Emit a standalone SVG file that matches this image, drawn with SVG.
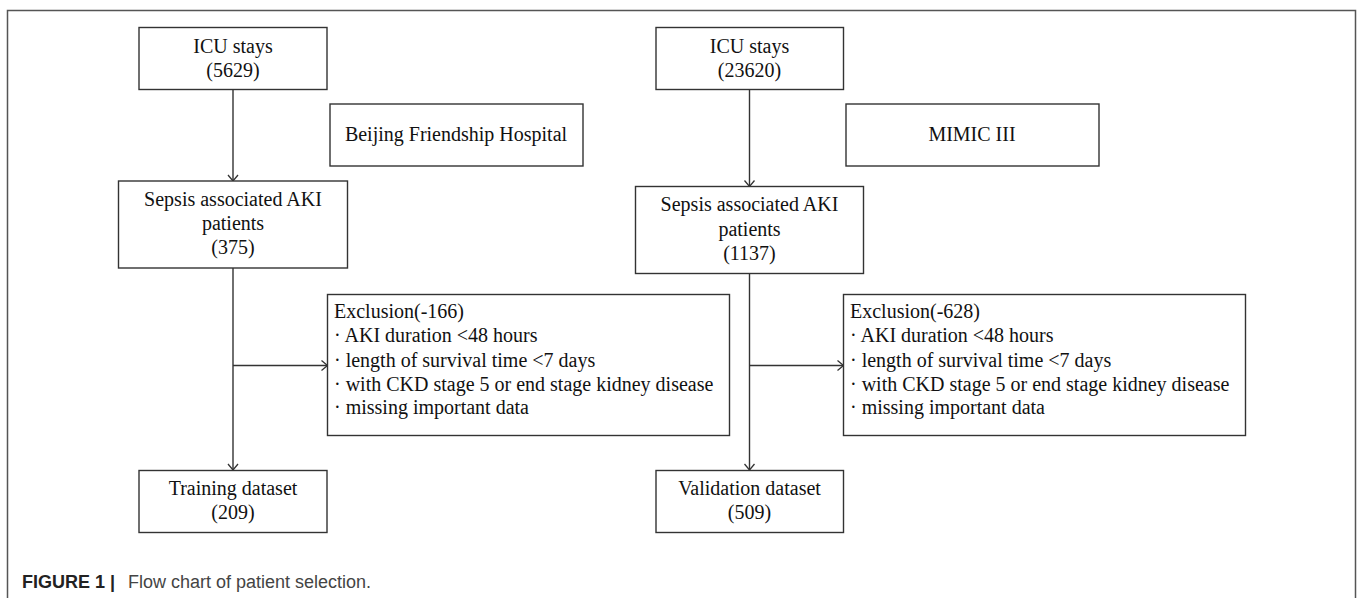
<svg xmlns="http://www.w3.org/2000/svg" width="1357" height="598" viewBox="0 0 1357 598">
  <style>
    .box { fill: #ffffff; stroke: #333333; stroke-width: 1.4; }
    .t { font-family: "Liberation Serif", "Times New Roman", serif; font-size: 20px; fill: #111111; }
    .c { text-anchor: middle; }
    .edge { fill: none; stroke: #333333; stroke-width: 1.4; }
    .frame { fill: none; stroke: #555555; stroke-width: 1.5; }
    .cap { font-family: "Liberation Sans", Arial, sans-serif; font-size: 18px; }
  </style>
  <defs>
    <marker id="arr" markerUnits="userSpaceOnUse" viewBox="0 0 8 12" refX="7" refY="6" markerWidth="8" markerHeight="12" orient="auto">
      <path d="M1,1 L7,6 L1,11" fill="none" stroke="#333333" stroke-width="1.3"/>
    </marker>
  </defs>
  <rect width="1357" height="598" fill="#ffffff"/>
  <path class="frame" d="M7.5,598 V10.5 H1355.5 V598"/>

  <g id="connectors">
    <line class="edge" x1="233" y1="89" x2="233" y2="181" marker-end="url(#arr)"/>
    <line class="edge" x1="233" y1="268" x2="233" y2="470" marker-end="url(#arr)"/>
    <line class="edge" x1="233" y1="365.5" x2="327.5" y2="365.5" marker-end="url(#arr)"/>
    <line class="edge" x1="749.5" y1="89" x2="749.5" y2="186.5" marker-end="url(#arr)"/>
    <line class="edge" x1="749.5" y1="274" x2="749.5" y2="470" marker-end="url(#arr)"/>
    <line class="edge" x1="749.5" y1="365.5" x2="843.5" y2="365.5" marker-end="url(#arr)"/>
  </g>

  <g id="icu-left">
    <rect class="box" x="139" y="27.5" width="188" height="62"/>
    <text class="t c" x="233" y="52.5">ICU stays</text>
    <text class="t c" x="233" y="76.5">(5629)</text>
  </g>
  <g id="bfh">
    <rect class="box" x="330" y="104" width="253" height="62"/>
    <text class="t c" x="456" y="141">Beijing Friendship Hospital</text>
  </g>
  <g id="sepsis-left">
    <rect class="box" x="118.5" y="181" width="229" height="87"/>
    <text class="t c" x="233" y="206">Sepsis associated AKI</text>
    <text class="t c" x="233" y="230">patients</text>
    <text class="t c" x="233" y="254">(375)</text>
  </g>
  <g id="excl-left">
    <rect class="box" x="327.5" y="294.5" width="402" height="141"/>
    <text class="t" x="334" y="318">Exclusion(-166)</text>
    <text class="t" x="334" y="342">· AKI duration &lt;48 hours</text>
    <text class="t" x="334" y="367">· length of survival time &lt;7 days</text>
    <text class="t" x="334" y="390.5">· with CKD stage 5 or end stage kidney disease</text>
    <text class="t" x="334" y="414">· missing important data</text>
  </g>
  <g id="train">
    <rect class="box" x="139" y="470.5" width="188" height="62"/>
    <text class="t c" x="233" y="495">Training dataset</text>
    <text class="t c" x="233" y="519">(209)</text>
  </g>

  <g id="icu-right">
    <rect class="box" x="656" y="27.5" width="187.5" height="62"/>
    <text class="t c" x="749.5" y="52.5">ICU stays</text>
    <text class="t c" x="749.5" y="76.5">(23620)</text>
  </g>
  <g id="mimic">
    <rect class="box" x="846" y="104" width="253" height="62"/>
    <text class="t c" x="972" y="141">MIMIC III</text>
  </g>
  <g id="sepsis-right">
    <rect class="box" x="635.5" y="186.5" width="228" height="87"/>
    <text class="t c" x="749.5" y="211">Sepsis associated AKI</text>
    <text class="t c" x="749.5" y="235.5">patients</text>
    <text class="t c" x="749.5" y="259.5">(1137)</text>
  </g>
  <g id="excl-right">
    <rect class="box" x="843.5" y="294.5" width="402" height="141"/>
    <text class="t" x="850" y="318">Exclusion(-628)</text>
    <text class="t" x="850" y="342">· AKI duration &lt;48 hours</text>
    <text class="t" x="850" y="367">· length of survival time &lt;7 days</text>
    <text class="t" x="850" y="390.5">· with CKD stage 5 or end stage kidney disease</text>
    <text class="t" x="850" y="414">· missing important data</text>
  </g>
  <g id="valid">
    <rect class="box" x="656" y="470.5" width="187.5" height="62"/>
    <text class="t c" x="749.5" y="495">Validation dataset</text>
    <text class="t c" x="749.5" y="519">(509)</text>
  </g>

  <g id="caption">
    <text class="cap" x="22" y="588" fill="#222222" font-weight="bold">FIGURE 1 |</text>
    <text class="cap" x="128" y="588" fill="#444444">Flow chart of patient selection.</text>
  </g>
</svg>
